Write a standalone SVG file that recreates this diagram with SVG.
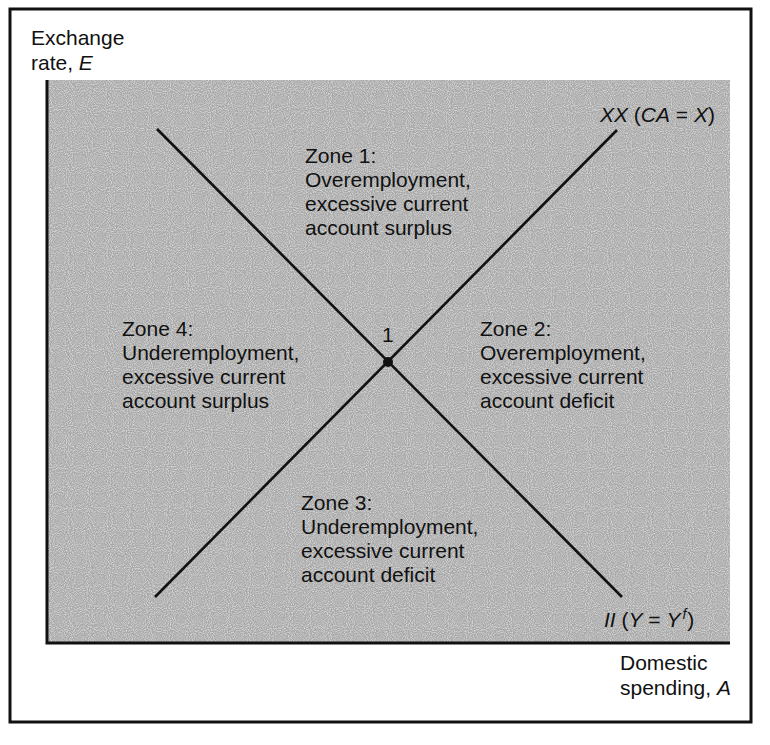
<svg xmlns="http://www.w3.org/2000/svg" width="770" height="745" viewBox="0 0 770 745">
<style>
text{font-family:"Liberation Sans",Arial,sans-serif;font-size:21px;fill:#111}
.z{font-size:21px}
.i{font-style:italic}
.ln{stroke:#111;stroke-width:2.6;fill:none}
.ax{stroke:#111;stroke-width:3;fill:none}
</style>
<defs>
<filter id="noise" x="0" y="0" width="100%" height="100%">
<feTurbulence type="fractalNoise" baseFrequency="0.95" numOctaves="1" seed="5"/>
<feColorMatrix type="matrix" values="0 0 0 0 1  0 0 0 0 1  0 0 0 0 1  0 0 0 3 -1.2"/>
</filter>
</defs>
<rect x="0" y="0" width="770" height="745" fill="#fff"/>
<rect x="10" y="9" width="741" height="713" fill="none" stroke="#111" stroke-width="3"/>
<g id="plot">
<rect x="47" y="80" width="683" height="563" fill="#a9a9a9"/>
<rect x="47" y="80" width="683" height="563" fill="#fff" filter="url(#noise)" opacity="0.5"/>
</g>
<g id="axes">
<path class="ax" d="M47 80 V643 H730"/>
<text x="31" y="45">Exchange</text>
<text x="31" y="70">rate, <tspan class="i">E</tspan></text>
<text x="620" y="670">Domestic</text>
<text x="620" y="695">spending, <tspan class="i">A</tspan></text>
</g>
<g id="connectors">
<line id="XX" class="ln" x1="155" y1="597" x2="617" y2="130"/>
<line id="II" class="ln" x1="157" y1="129" x2="622" y2="597"/>
</g>
<g id="XXlabel"><text x="600" y="122"><tspan class="i">XX</tspan> (<tspan class="i">CA</tspan> = <tspan class="i">X</tspan>)</text></g>
<g id="IIlabel"><text x="604" y="627"><tspan class="i">II</tspan> (<tspan class="i">Y</tspan> = <tspan class="i">Y</tspan><tspan class="i" font-size="14" dx="2" dy="-8">f</tspan><tspan dx="1" dy="8">)</tspan></text></g>
<g id="point1">
<circle cx="388" cy="362" r="5" fill="#111"/>
<text x="382" y="342" class="z">1</text>
</g>
<g id="zone1"><text class="z" x="305" y="163">Zone 1:</text><text class="z" x="305" y="187">Overemployment,</text><text class="z" x="305" y="211">excessive current</text><text class="z" x="305" y="235">account surplus</text></g>
<g id="zone2"><text class="z" x="480" y="336">Zone 2:</text><text class="z" x="480" y="360">Overemployment,</text><text class="z" x="480" y="384">excessive current</text><text class="z" x="480" y="408">account deficit</text></g>
<g id="zone3"><text class="z" x="301" y="510">Zone 3:</text><text class="z" x="301" y="534">Underemployment,</text><text class="z" x="301" y="558">excessive current</text><text class="z" x="301" y="582">account deficit</text></g>
<g id="zone4"><text class="z" x="122" y="336">Zone 4:</text><text class="z" x="122" y="360">Underemployment,</text><text class="z" x="122" y="384">excessive current</text><text class="z" x="122" y="408">account surplus</text></g>
</svg>
